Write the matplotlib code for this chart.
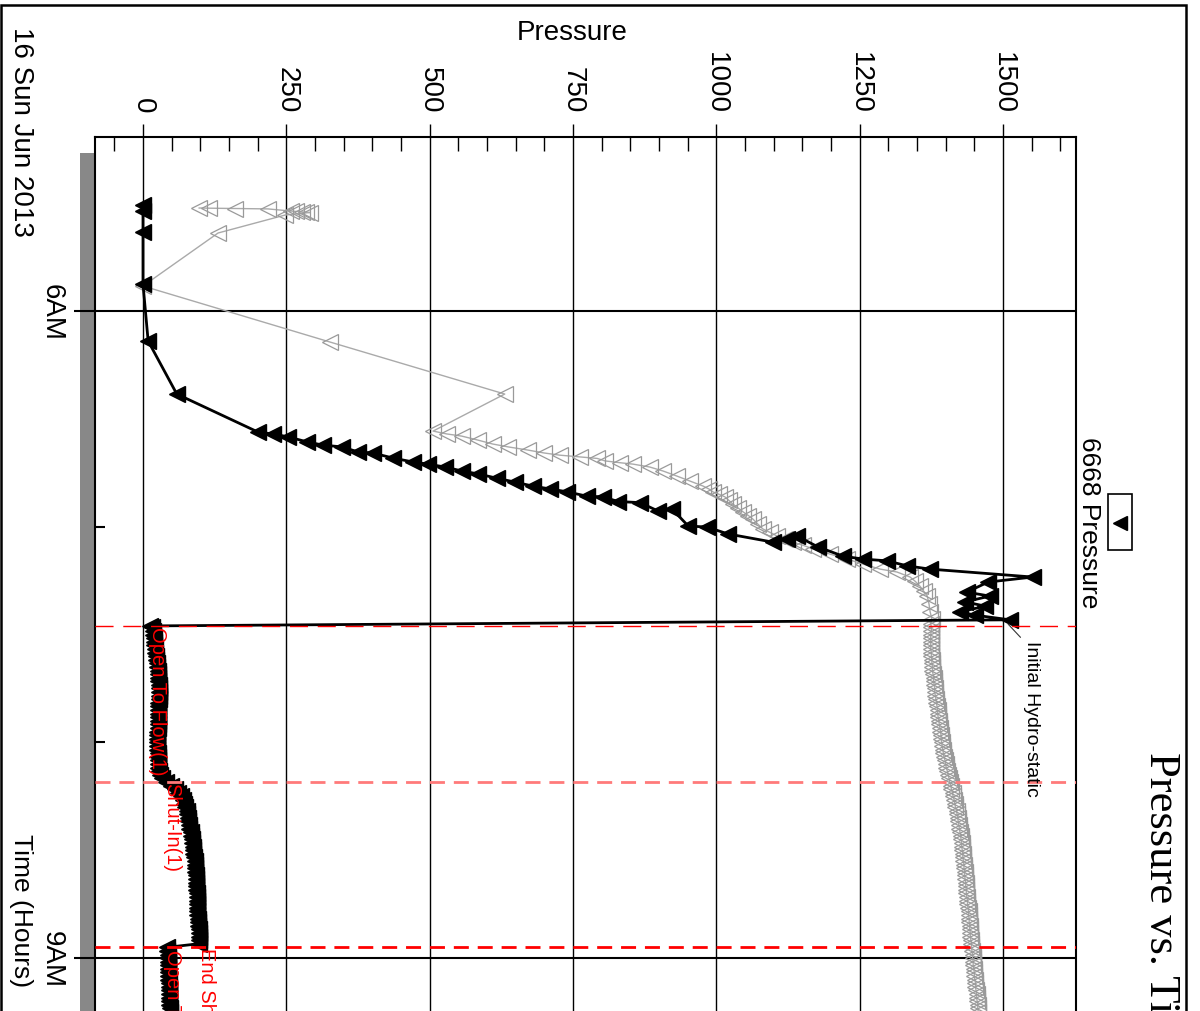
import matplotlib
matplotlib.use('Agg')
import matplotlib.pyplot as plt
from matplotlib.patches import Rectangle
from matplotlib.lines import Line2D
from matplotlib.ticker import FixedLocator, MultipleLocator
import numpy as np

plt.rcParams['font.family'] = ['Liberation Sans', 'DejaVu Sans']

# ---------------- data (time in minutes after 06:00, pressure) ----------------
black_pre_minutes = [-29.5, -27.8, -21.9, -7.5, 8.34, 23.1, 33.7, 34.2, 35.0, 36.4,
                     37.3, 37.8, 39.2, 39.5, 40.9, 42.0, 42.6, 43.4, 44.5, 45.3,
                     46.5, 47.6, 48.7, 49.5, 50.3, 51.5, 51.7, 53.0, 53.3, 55.6,
                     55.1, 59.8, 60.1, 62.0, 64.3, 63.4, 62.6, 65.6, 68.2, 69.0,
                     69.5, 70.9, 71.8, 74.0, 75.4, 78.2, 79.3, 80.9, 82.1, 83.7,
                     84.6, 85.9, 87.6]
black_pre_pressure = [0, 0, 0, 0, 9, 59, 201, 227, 253, 286,
                      314, 347, 375, 401, 436, 471, 497, 527, 556, 584,
                      617, 649, 680, 710, 740, 774, 802, 829, 867, 898,
                      923, 951, 984, 1020, 1099, 1123, 1141, 1177, 1221, 1256,
                      1298, 1333, 1373, 1552, 1474, 1437, 1477, 1434, 1469, 1425,
                      1451, 1512, 12]

gray_pre_minutes = [-28.65, -28.6, -28.5, -28.4, -27.8, -27.7, -27.6, -27.5, -27.4, -26.7,
                    -21.7, -6.95, 8.62, 23.1, 33.4, 34.2, 34.8, 35.9, 37.0, 37.8,
                    38.7, 39.5, 40.1, 40.6, 41.0, 41.7, 42.2, 42.6, 43.4, 44.5,
                    45.9, 47.3, 48.7, 49.5, 50.3, 51.0, 51.7, 52.7, 53.7, 54.8,
                    55.9, 56.9, 57.9, 59.2, 60.6, 61.6, 62.6, 63.4, 64.3, 65.2,
                    66.2, 67.6, 69.0, 70.4, 71.8, 72.6, 74.0, 75.2, 76.5, 78.0,
                    79.3, 81.5, 83.7, 85.7, 87.0]
gray_pre_pressure = [98, 115, 160, 218, 258, 267, 277, 284, 291, 248,
                     131, 0, 326, 631, 506, 530, 556, 584, 610, 637,
                     672, 700, 727, 762, 792, 806, 832, 855, 884, 907,
                     931, 954, 977, 987, 994, 1005, 1015, 1022, 1029, 1038,
                     1047, 1056, 1064, 1072, 1081, 1094, 1106, 1120, 1134, 1152,
                     1169, 1198, 1228, 1256, 1286, 1315, 1338, 1347, 1355, 1362,
                     1368, 1371, 1373, 1376, 1374]

flow_minutes = [88, 89, 90, 91, 92, 93, 94, 95, 96, 97, 98, 99, 100, 101, 102, 103,
                104, 105, 106, 107, 108, 109, 110, 111, 112, 113, 114, 115, 116, 117,
                118, 119, 120, 121, 122, 123, 124, 125, 126, 127, 128, 129, 130, 131,
                132, 133, 134, 135, 136, 137, 138, 139, 140, 141, 142, 143, 144, 145,
                146, 147, 148, 149, 150, 151, 152, 153, 154, 155, 156, 157, 158, 159,
                160, 161, 162, 163, 164, 165, 166, 167, 168, 169, 170, 171, 172, 173,
                174, 175, 176, 177, 178, 179, 180, 181, 182, 183, 184, 185, 186, 187,
                188, 189, 190, 191, 192, 193, 194, 195]
flow_black = [16, 17, 18, 19, 19, 20, 21, 21, 22, 23, 24, 25, 26, 26, 27, 27,
              28, 28, 28, 28, 28, 27, 27, 27, 27, 26, 26, 26, 26, 25,
              25, 25, 25, 25, 25, 26, 26, 26, 26, 27, 28, 30, 33, 40,
              48, 55, 61, 66, 70, 72, 74, 76, 77, 78, 79, 80, 81, 83,
              84, 85, 86, 87, 88, 88, 89, 90, 90, 91, 91, 92, 92, 93,
              93, 93, 94, 94, 94, 95, 95, 95, 95, 96, 96, 96, 97, 97,
              97, 98, 98, 42, 42, 43, 43, 43, 43, 44, 44, 44, 44, 45,
              45, 45, 46, 46, 46, 46, 47, 47]
flow_gray = [1375, 1375, 1374, 1374, 1374, 1374, 1374, 1375, 1375, 1376, 1376, 1377, 1377, 1378, 1379, 1379,
             1380, 1381, 1381, 1382, 1383, 1384, 1385, 1386, 1386, 1387, 1388, 1389, 1390, 1391,
             1392, 1392, 1393, 1394, 1395, 1396, 1397, 1399, 1400, 1401, 1403, 1404, 1406, 1407,
             1409, 1410, 1412, 1413, 1415, 1416, 1417, 1419, 1420, 1421, 1422, 1423, 1424, 1425,
             1426, 1427, 1428, 1428, 1429, 1430, 1430, 1431, 1432, 1432, 1433, 1433, 1434, 1435,
             1435, 1436, 1436, 1437, 1438, 1438, 1439, 1440, 1440, 1441, 1441, 1442, 1442, 1443,
             1443, 1444, 1445, 1445, 1446, 1447, 1447, 1448, 1448, 1449, 1450, 1450, 1451, 1452,
             1452, 1453, 1454, 1454, 1455, 1456, 1456, 1457]

event_minutes = [87.6, 131.0, 176.9]
event_colors = ['#ff0000', '#ff7a7a', '#ff0000']
event_widths = [1.0, 2.0, 2.0]
event_labels = ['Open To Flow(1)', 'Shut-In(1)', 'End Shut-In(1)', 'Open To Flow(2)']
event_label_minutes = [87.6, 131.0, 176.9, 177.4]

pressure_ticks = [0, 250, 500, 750, 1000, 1250, 1500]
time_ticks = [6, 9]
time_tick_labels = ['6AM', '9AM']
time_minor_ticks = [7, 8]

series_name = '6668 Pressure'
title = 'Pressure vs. Time'
date_label = '16 Sun Jun 2013'
hydro_label = 'Initial Hydro-static'

# ---------------- layout helpers (pixel -> figure fraction) ----------------
W, H = 1200, 1012
def fx(x):
    return x / W
def fy(y):
    return 1 - y / H

def to_hours(m):
    return 6 + np.asarray(m, dtype=float) / 60.0

fig = plt.figure(figsize=(12, 10.12), dpi=100)
fig.patch.set_facecolor('white')

# outer frame and grey side bar
fig.add_artist(Rectangle((fx(1), fy(1100)), fx(1186) - fx(1), fy(6) - fy(1100),
                         fill=False, lw=1.8, ec='black', transform=fig.transFigure,
                         clip_on=False, zorder=0))
fig.add_artist(Rectangle((fx(80), fy(1100)), fx(95) - fx(80), fy(154) - fy(1100),
                         fc='#888888', ec='none', transform=fig.transFigure, zorder=0))

ax = fig.add_axes([fx(95), fy(1100), fx(1076) - fx(95), fy(138) - fy(1100)])
ax.set_xlim(-83.7, 1627.4)
ax.set_ylim(9.6532, 5.1933)

# series
gray_t = np.concatenate([to_hours(gray_pre_minutes), to_hours(flow_minutes)])
gray_p = np.concatenate([gray_pre_pressure, flow_gray])
black_t = np.concatenate([to_hours(black_pre_minutes), to_hours(flow_minutes)])
black_p = np.concatenate([black_pre_pressure, flow_black])

ax.plot(gray_p, gray_t, color='#aaaaaa', lw=1.0, marker='<', ms=11,
        mfc='none', mec='#9a9a9a', mew=0.9, zorder=2)
ax.plot(black_p, black_t, color='black', lw=2.0, marker='<', ms=12,
        mfc='black', mec='black', mew=1.0, zorder=3)

# event lines
for m, c, w in zip(event_minutes, event_colors, event_widths):
    dash = (0, (13, 7)) if w < 1.5 else (0, (5.4, 3.2))
    ax.axhline(to_hours(m), color=c, lw=w, linestyle=dash, zorder=4)

# event labels
for lab, m in zip(event_labels, event_label_minutes):
    pval = np.interp(m, flow_minutes, flow_black)
    if lab.startswith('End'):
        pval = np.interp(m - 1, flow_minutes, flow_black) + 4
    if lab == 'Open To Flow(1)':
        pval = flow_black[0]
    ax.text(pval, to_hours(m), lab, color='red', fontsize=14.5, rotation=270,
            rotation_mode='anchor', ha='left', va='baseline', zorder=5)

# initial hydrostatic annotation
hyd_idx = int(np.argmax(np.asarray(black_pre_minutes) > 85))
ax.annotate(hydro_label, xy=(black_pre_pressure[hyd_idx] - 3, to_hours(black_pre_minutes[hyd_idx]) + 0.02),
            xytext=(19, -16), textcoords='offset pixels', fontsize=14,
            rotation=270, rotation_mode='anchor', ha='left', va='baseline',
            arrowprops=dict(arrowstyle='-', lw=0.8, color='#333333', relpos=(0, 1),
                            shrinkA=0, shrinkB=0), zorder=5)

# axes styling
for s in ax.spines.values():
    s.set_linewidth(1.5)
    s.set_color('black')

ax.xaxis.tick_top()
ax.xaxis.set_major_locator(FixedLocator(pressure_ticks))
ax.xaxis.set_minor_locator(MultipleLocator(50))
ax.set_xticklabels([str(v) for v in pressure_ticks])
ax.tick_params(axis='x', which='major', direction='out', length=9.4, width=1.0,
               pad=8, labelsize=20, labelrotation=270, top=True, bottom=False)
ax.tick_params(axis='x', which='minor', direction='in', length=10, width=1.0,
               top=True, bottom=False)

ax.yaxis.set_major_locator(FixedLocator(time_ticks))
ax.yaxis.set_minor_locator(FixedLocator(time_minor_ticks))
ax.set_yticklabels(time_tick_labels)
ax.tick_params(axis='y', which='major', direction='out', length=15, width=1.5,
               pad=7, labelsize=20, labelrotation=270, left=True, right=False)
ax.tick_params(axis='y', which='minor', direction='in', length=7.5, width=1.5,
               left=True, right=False)
for lbl in ax.get_yticklabels():
    lbl.set_va('center')

ax.set_axisbelow(True)
ax.grid(axis='x', which='major', color='black', lw=1.0)
ax.grid(axis='y', which='major', color='black', lw=1.5)

# texts
fig.text(fx(572), fy(40), 'Pressure', ha='center', va='baseline', fontsize=20)
fig.text(fx(14), fy(27), date_label, rotation=270, rotation_mode='anchor',
         ha='left', va='baseline', fontsize=20)
fig.text(fx(14), fy(834), 'Time (Hours)', rotation=270, rotation_mode='anchor',
         ha='left', va='baseline', fontsize=19)
fig.text(fx(1150), fy(752), title, rotation=270, rotation_mode='anchor',
         ha='left', va='baseline', fontsize=32, family='Liberation Serif')

# legend (drawn rotated like the rest of the chart)
fig.text(fx(1082), fy(437), series_name, rotation=270, rotation_mode='anchor',
         ha='left', va='baseline', fontsize=19)
fig.add_artist(Rectangle((fx(1108), fy(551)), fx(1132) - fx(1108), fy(495) - fy(551),
                         fill=False, lw=1.2, ec='black', transform=fig.transFigure))
fig.add_artist(Line2D([fx(1120)], [fy(524)], marker='<', ms=10, color='black',
                      mfc='black', transform=fig.transFigure))

fig.savefig('out.png', dpi=100)
